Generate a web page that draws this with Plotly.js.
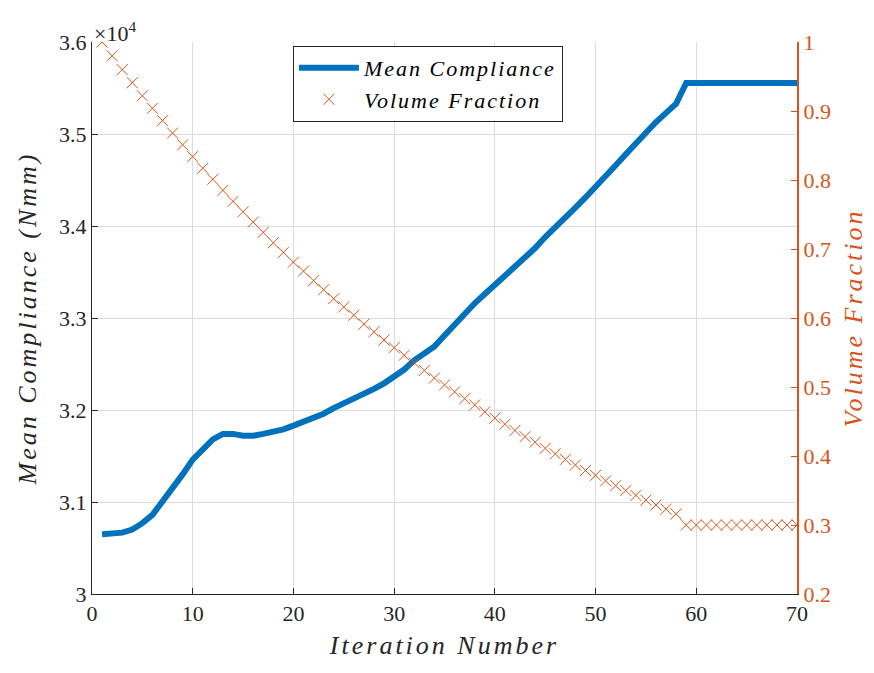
<!DOCTYPE html>
<html>
<head>
<meta charset="utf-8">
<script src="https://cdn.plot.ly/plotly-3.0.1.min.js"></script>
<style>
  body { margin: 0; }
  .legendtext { letter-spacing: 2px; }
  .g-xtitle text, .g-ytitle text, .g-y2title text { letter-spacing: 3px; }
</style>
</head>
<body>
<div id="chart" style="width:874px;height:673px"></div>
<script>
// Iteration numbers
const iterations = [1,2,3,4,5,6,7,8,9,10,11,12,13,14,15,16,17,18,19,20,
  21,22,23,24,25,26,27,28,29,30,31,32,33,34,35,36,37,38,39,40,
  41,42,43,44,45,46,47,48,49,50,51,52,53,54,55,56,57,58,59,60,
  61,62,63,64,65,66,67,68,69,70];

// Mean compliance (N mm)
const meanCompliance = [30650,30660,30667,30700,30770,30860,31000,31140,31300,31460,
  31570,31680,31740,31740,31720,31720,31740,31760,31790,31830,
  31870,31910,31960,32020,32070,32120,32180,32230,32290,32360,
  32440,32540,32620,32690,32810,32930,33050,33160,33260,33370,
  33460,33560,33650,33760,33880,33980,34090,34200,34310,34420,
  34530,34660,34780,34900,35020,35130,35230,35330,35555,35555,
  35555,35555,35555,35555,35555,35555,35555,35555,35555,35555];

// Volume fraction
const volumeFraction = [1.000,0.980,0.960,0.941,0.922,0.904,0.886,0.868,0.851,0.834,
  0.817,0.801,0.785,0.769,0.754,0.739,0.724,0.709,0.695,0.681,
  0.668,0.654,0.641,0.628,0.616,0.604,0.591,0.580,0.568,0.557,
  0.546,0.535,0.524,0.513,0.503,0.493,0.483,0.474,0.464,0.455,
  0.446,0.437,0.428,0.420,0.411,0.403,0.395,0.387,0.379,0.372,
  0.364,0.357,0.350,0.343,0.336,0.329,0.323,0.316,0.300,0.300,
  0.300,0.300,0.300,0.300,0.300,0.300,0.300,0.300,0.300,0.300];

const xTicks = [0,10,20,30,40,50,60,70];
const leftTickVals = [30000,31000,32000,33000,34000,35000,36000];
const leftTickText = ['3','3.1','3.2','3.3','3.4','3.5','3.6'];
const rightTickVals = [0.2,0.3,0.4,0.5,0.6,0.7,0.8,0.9,1.0];
const rightTickText = ['0.2','0.3','0.4','0.5','0.6','0.7','0.8','0.9','1'];

const BLUE = '#0072BD';
const ORANGE = '#D95319';
const SERIF = 'Liberation Serif';

// warm up the serif font (regular and italic) before Plotly measures text
(function () {
  const cv = document.createElement('canvas');
  cv.width = 10; cv.height = 10;
  const ctx = cv.getContext('2d');
  ctx.font = '22px "Liberation Serif"';
  ctx.fillText('Mean 0123456789.', 0, 8);
  ctx.font = 'italic 22px "Liberation Serif"';
  ctx.fillText('Mean Compliance', 0, 8);
})();

const traces = [
  {
    x: iterations, y: meanCompliance, name: 'Mean Compliance',
    type: 'scatter', mode: 'lines',
    line: { color: BLUE, width: 6 },
    yaxis: 'y'
  },
  {
    x: iterations, y: volumeFraction, name: 'Volume Fraction',
    type: 'scatter', mode: 'markers',
    marker: { symbol: 'x-thin-open', size: 11, color: ORANGE, line: { color: ORANGE, width: 1 } },
    yaxis: 'y2'
  }
];

const layout = {
  width: 874, height: 673,
  margin: { l: 92, r: 77, t: 42, b: 79 },
  paper_bgcolor: '#fff', plot_bgcolor: '#fff',
  font: { family: SERIF, size: 22, color: '#262626' },
  showlegend: true,
  legend: {
    x: 0.285, y: 0.993, xanchor: 'left', yanchor: 'top',
    bgcolor: '#fff', bordercolor: '#262626', borderwidth: 1,
    font: { family: SERIF, size: 22, style: 'italic', color: '#000' },
    itemwidth: 60, tracegroupgap: 0
  },
  xaxis: {
    range: [0, 70], tickvals: xTicks, ticktext: xTicks.map(String),
    showgrid: true, gridcolor: '#dcdcdc', gridwidth: 1,
    zeroline: false, showline: true, linecolor: '#262626', linewidth: 1,
    ticks: 'inside', ticklen: 6, tickcolor: '#262626',
    tickfont: { family: SERIF, size: 22, color: '#262626' },
    title: { text: 'Iteration Number', font: { family: SERIF, size: 26, style: 'italic', color: '#262626' }, standoff: 10 }
  },
  yaxis: {
    range: [30000, 36000], tickvals: leftTickVals, ticktext: leftTickText,
    showgrid: true, gridcolor: '#dcdcdc', gridwidth: 1,
    zeroline: false, showline: true, linecolor: '#262626', linewidth: 1,
    ticks: 'inside', ticklen: 6, tickcolor: '#262626',
    tickfont: { family: SERIF, size: 22, color: '#262626' },
    title: { text: 'Mean Compliance (Nmm)', font: { family: SERIF, size: 26, style: 'italic', color: '#262626' }, standoff: 14 }
  },
  yaxis2: {
    range: [0.2, 1.0], tickvals: rightTickVals, ticktext: rightTickText,
    overlaying: 'y', side: 'right',
    showgrid: false, zeroline: false,
    showline: true, linecolor: ORANGE, linewidth: 2,
    ticks: 'inside', ticklen: 6, tickcolor: ORANGE,
    tickfont: { family: SERIF, size: 22, color: ORANGE },
    title: { text: 'Volume Fraction', font: { family: SERIF, size: 26, style: 'italic', color: ORANGE }, standoff: 14 }
  },
  annotations: [
    {
      xref: 'paper', yref: 'paper', x: 0, y: 1, xanchor: 'left', yanchor: 'bottom',
      text: '\u00D710<sup>4</sup>', showarrow: false,
      font: { family: SERIF, size: 22, color: '#262626' }, yshift: -6
    }
  ]
};

Plotly.newPlot('chart', traces, layout, { displayModeBar: false });
</script>
</body>
</html>
